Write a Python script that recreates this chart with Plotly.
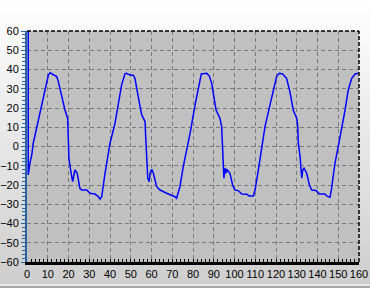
import plotly.graph_objects as go

# ---- data ----
x_vals = [0.6, 0.6, 1.4, 2.3, 3.0, 4.7, 7.1, 8.7, 10.3, 11.1, 12.7, 14.3, 15.1, 16.7, 18.3, 19.6, 19.9, 20.2,
          21.0, 22.0, 23.1, 24.2, 25.5, 26.4, 28.8, 30.4, 32.8, 34.4, 35.2, 36.0, 37.6, 40.0,
          42.4, 44.0, 45.6, 47.2, 48.0, 49.6, 51.2, 52.0, 52.9, 54.5, 55.3, 56.9, 57.2, 57.7, 58.2, 58.9,
          59.3, 60.1, 60.9, 62.5, 64.1, 67.3, 69.7, 71.3, 72.1, 73.7, 75.3, 78.6, 81.0, 82.4, 84.0, 86.6, 87.9,
          89.0, 89.8, 91.1, 92.2, 93.0, 93.8, 94.1, 94.6, 94.9, 95.4, 95.9, 96.2, 97.8, 99.1, 100.2, 101.8,
          103.5, 105.9, 107.1, 109.1, 109.9, 111.5, 113.1, 114.7, 117.1, 118.7, 120.3, 121.6, 123.2, 125.1,
          126.7, 128.3, 129.2, 130.0, 130.5, 130.7, 131.6, 131.9, 132.4, 132.9, 133.5, 134.8, 136.1, 137.2,
          139.3, 140.9, 143.6, 144.4, 146.0, 146.8, 148.4, 150.0, 151.7, 153.3, 154.8, 156.5, 158.1, 159.7]
y_vals = [60, -14.8, -8.7, -4.4, 1.7, 10.3, 20.7, 30.2, 37.1, 38.3, 37.1, 36.3, 33.7, 25.9, 19.0, 14.6, 6.9, -6.1,
          -12.2, -18.3, -12.2, -13.9, -21.7, -22.6, -22.6, -24.3, -24.7, -26.1, -27.4, -26.1, -13.9, 1.7,
          12.0, 22.4, 32.0, 37.7, 38.0, 37.1, 37.0, 35.4, 29.4, 20.7, 16.4, 12.9, 5.1, -8.7, -16.5, -18.3,
          -13.9, -11.8, -13.9, -20.9, -22.6, -24.3, -25.2, -26.1, -26.9, -20.9, -10.5, 6.9, 21.6, 30.0, 37.7, 38.0, 36.6,
          32.8, 27.6, 19.0, 16.4, 14.6, 10.3, 2.5, -10.5, -16.5, -11.3, -13.9, -11.8, -13.9, -20.0, -22.6, -22.9,
          -24.7, -24.8, -25.7, -25.7, -22.6, -12.2, -1.0, 10.3, 21.6, 29.4, 36.3, 38.0, 37.7, 35.4,
          28.5, 19.0, 16.4, 14.6, 10.3, 2.5, -5.3, -10.5, -16.5, -12.2, -11.3, -13.9, -20.0, -22.6,
          -22.9, -24.7, -24.7, -25.7, -26.4, -21.7, -8.7, -0.1, 9.4, 19.0, 29.4, 35.4, 37.7, 38.0]

x_range = [0, 160]
y_range = [-60, 60]

fig = go.Figure()
fig.add_trace(go.Scatter(x=x_vals, y=y_vals, mode="lines",
                         line=dict(color="#0000ff", width=1.5), hoverinfo="skip", cliponaxis=False))

# background gradient (paper) made of thin bands
shapes = []
n = 48
H = 231.0
for i in range(n):
    t = i / (n - 1)
    c = int(round(255 - t * (255 - 206)))
    shapes.append(dict(type="rect", xref="paper", yref="paper", layer="below",
                       x0=-0.1, x1=1.1,
                       y0=1 + 31/H - (i + 1) * (288/H) / n - 0.002,
                       y1=1 + 31/H - i * (288/H) / n,
                       line=dict(width=0), fillcolor=f"rgb({c},{c},{c})"))
# plot area background
shapes.append(dict(type="rect", xref="paper", yref="paper", layer="below",
                   x0=0, x1=1, y0=0, y1=1, line=dict(width=0), fillcolor="#c0c0c0"))
# bottom strip lines
shapes.append(dict(type="line", xref="paper", yref="paper", layer="below", x0=-0.1, x1=1.1,
                   y0=-(285-262)/H, y1=-(285-262)/H, line=dict(color="#ffffff", width=1)))
shapes.append(dict(type="rect", xref="paper", yref="paper", layer="below", x0=-0.1, x1=1.1,
                   y0=-(289-262)/H, y1=-(286-262)/H, line=dict(width=0), fillcolor="#a8a8a8"))
# dashed top and right borders
shapes.append(dict(type="line", xref="paper", yref="paper", x0=0, x1=1, y0=1, y1=1,
                   line=dict(color="#000000", width=1.5, dash="4px,2px")))
shapes.append(dict(type="line", xref="paper", yref="paper", x0=1, x1=1, y0=0, y1=1,
                   line=dict(color="#000000", width=1.5, dash="4px,2px")))

font = dict(family="Liberation Sans, Arial, sans-serif", size=11, color="#000000")

fig.update_layout(
    width=370, height=288,
    margin=dict(l=27, r=11, t=31, b=26),
    paper_bgcolor="#e6e6e6",
    plot_bgcolor="rgba(0,0,0,0)",
    showlegend=False,
    shapes=shapes,
    font=font,
    xaxis=dict(range=x_range, dtick=10, tick0=0, showgrid=True, gridcolor="#7a7a7a",
               griddash="4px,3px", gridwidth=1, zeroline=False, automargin=False,
               showline=True, linecolor="#000000", linewidth=3,
               ticks="inside", ticklen=3, tickcolor="#000000", tickwidth=1, tickangle=0,
               minor=dict(dtick=2, ticks="inside", ticklen=3, tickcolor="#000000", showgrid=False),
               tickfont=font, fixedrange=True),
    yaxis=dict(range=y_range, dtick=10, tick0=0, showgrid=True, gridcolor="#7a7a7a",
               griddash="4px,3px", gridwidth=1, zeroline=False, automargin=False,
               showline=True, linecolor="#2a64a0", linewidth=2,
               ticks="outside", ticklen=4, tickcolor="#2a64a0", tickwidth=1,
               minor=dict(dtick=2, ticks="outside", ticklen=3, tickcolor="#2a64a0", showgrid=False),
               tickfont=font, fixedrange=True),
)

fig.write_html("out.html", config={"displayModeBar": False})
